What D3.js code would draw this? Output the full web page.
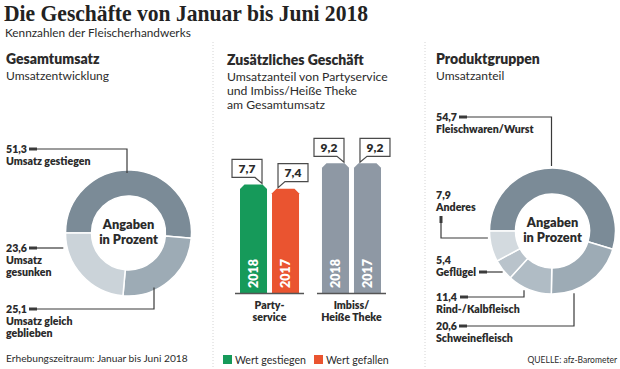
<!DOCTYPE html>
<html><head><meta charset="utf-8">
<script src="https://cdn.jsdelivr.net/npm/d3@7"></script>
<style>
html,body{margin:0;padding:0;background:#fff;}
svg{display:block;font-family:Lato,'Open Sans',sans-serif;}
</style></head><body>
<svg id="c" width="620" height="369"></svg>
<script>
// ---------- data ----------
const titleText = "Die Geschäfte von Januar bis Juni 2018";
const subtitleText = "Kennzahlen der Fleischerhandwerks";

const umsatzCategories = ["Umsatz gestiegen", "Umsatz gleich geblieben", "Umsatz gesunken"];
const umsatzLabelLines = [["Umsatz gestiegen"], ["Umsatz gleich", "geblieben"], ["Umsatz", "gesunken"]];
const umsatzValues = [51.3, 25.1, 23.6];

const barGroups = ["Partyservice", "Imbiss/Heiße Theke"];
const barGroupLines = [["Party-", "service"], ["Imbiss/", "Heiße Theke"]];
const barYears = ["2018", "2017"];
const partyValues = [7.7, 7.4];
const imbissValues = [9.2, 9.2];
const partyTrend = ["up", "down"];
const imbissTrend = ["same", "same"];

const produktCategories = ["Fleischwaren/Wurst", "Schweinefleisch", "Rind-/Kalbfleisch", "Geflügel", "Anderes"];
const produktValues = [54.7, 20.6, 11.4, 5.4, 7.9];

const legendLabels = ["Wert gestiegen", "Wert gefallen"];

// ---------- helpers ----------
const de = d3.formatLocale({decimal: ",", thousands: ".", grouping: [3], currency: ["", "€"]});
const fmt = de.format(".1f");
const svg = d3.select("#c");
const TXT = "#2b2b2b";
const LAB = 10.6;
const BOLD = 800;
function text(x, y, s, o = {}) {
  const t = svg.append("text").attr("x", x).attr("y", y).text(s)
    .attr("fill", o.fill || TXT)
    .attr("font-size", o.size || 11)
    .attr("font-weight", o.bold ? BOLD : 400)
    .attr("text-anchor", o.anchor || "start");
  if (o.family) t.attr("font-family", o.family);
  if (o.width) t.attr("textLength", o.width).attr("lengthAdjust", "spacingAndGlyphs");
  return t;
}

// ---------- separators ----------
[213, 425].forEach(x => svg.append("line").attr("x1", x).attr("x2", x).attr("y1", 42).attr("y2", 369)
  .attr("stroke", "#d4d4d4").attr("stroke-width", 1).attr("stroke-dasharray", "1,2"));

// ---------- titles ----------
text(4, 20.5, titleText, {size: 23, bold: true, family: "'Liberation Serif', serif", width: 364, fill: "#222"});
text(5, 36.5, subtitleText, {size: 11.8});

text(6, 64, "Gesamtumsatz", {size: 14, bold: true});
text(6, 79.5, "Umsatzentwicklung", {size: 12});

text(227, 65, "Zusätzliches Geschäft", {size: 14, bold: true});
["Umsatzanteil von Partyservice", "und Imbiss/Heiße Theke", "am Gesamtumsatz"]
  .forEach((s, i) => text(227, 80.5 + i * 14, s, {size: 12.2}));

text(436, 64, "Produktgruppen", {size: 14, bold: true});
text(436, 79.5, "Umsatzanteil", {size: 12});

// ---------- donut helper ----------
const pie = d3.pie().sort(null).startAngle(-Math.PI / 2).endAngle(1.5 * Math.PI);
const R = 63, r0 = 37;
const arc = d3.arc().innerRadius(r0).outerRadius(R);

function donut(cx, cy, values, colors) {
  const g = svg.append("g").attr("transform", `translate(${cx},${cy})`);
  g.selectAll("path").data(pie(values)).join("path")
    .attr("d", arc).attr("fill", (d, i) => colors[i])
    .attr("stroke", "#fff").attr("stroke-width", 1.5);
  g.append("text").attr("text-anchor", "middle").attr("y", -4).attr("font-size", 12.8)
    .attr("font-weight", BOLD).attr("fill", TXT).text("Angaben");
  g.append("text").attr("text-anchor", "middle").attr("y", 11).attr("font-size", 12.8)
    .attr("font-weight", BOLD).attr("fill", TXT).text("in Prozent");
  return g;
}
const LINE = "#3a3a3a";
function seg(pts, w = 1.2) {
  svg.append("path").attr("d", d3.line()(pts)).attr("fill", "none")
    .attr("stroke", LINE).attr("stroke-width", w);
}
function edgeY(cx, cy, x, dir) { return cy + dir * Math.sqrt(R * R - (x - cx) * (x - cx)); }
function edgeX(cx, cy, y, dir) { return cx + dir * Math.sqrt(R * R - (y - cy) * (y - cy)); }

// ---------- left donut ----------
const L = {cx: 128.5, cy: 233};
donut(L.cx, L.cy, umsatzValues, ["#7b8b97", "#9dabb5", "#cbd3d9"]);
const umsatzLayout = [
  {y: 153, ly: 149, ex: L.cx - 1.5, dir: -1},
  {y: 313, ly: 309, ex: L.cx + 25.5, dir: 1},
  {y: 252, ly: 248, ex: null}
];
umsatzValues.forEach((v, i) => {
  const lay = umsatzLayout[i];
  text(6, lay.y, fmt(v), {size: LAB, bold: true});
  umsatzLabelLines[i].forEach((s, j) => text(6, lay.y + 12 + j * 12, s, {size: LAB, bold: true}));
  seg([[29, lay.ly], [37, lay.ly]], 3);
  if (lay.ex === null) {
    seg([[37, lay.ly], [edgeX(L.cx, L.cy, lay.ly, -1) - 4, lay.ly]]);
  } else {
    seg([[37, lay.ly], [lay.ex, lay.ly], [lay.ex, edgeY(L.cx, L.cy, lay.ex, lay.dir) - lay.dir * 3]]);
  }
});
text(6, 362, "Erhebungszeitraum: Januar bis Juni 2018", {size: 10.2});

// ---------- right donut ----------
const P = {cx: 552.5, cy: 231};
donut(P.cx, P.cy, produktValues, ["#7b8b97", "#9dabb5", "#b0bcc5", "#b9c3cb", "#d3dadf"]);
text(436, 121, fmt(produktValues[0]), {size: LAB, bold: true});
text(436, 133, produktCategories[0], {size: LAB, bold: true});
seg([[459, 117], [467, 117]], 3);
seg([[467, 117], [P.cx - 1, 117], [P.cx - 1, edgeY(P.cx, P.cy, P.cx - 1, -1) - 2]]);

text(436, 199, fmt(produktValues[4]), {size: LAB, bold: true});
text(436, 211, produktCategories[4], {size: LAB, bold: true});
seg([[441, 216], [441, 223]], 3);
seg([[441, 223], [441, 238], [edgeX(P.cx, P.cy, 238, -1) - 2, 238]]);

text(436, 264, fmt(produktValues[3]), {size: LAB, bold: true});
text(436, 276, produktCategories[3], {size: LAB, bold: true});
seg([[479, 272], [487, 272]], 3);
seg([[487, 272], [edgeX(P.cx, P.cy, 272, -1) - 2, 272]]);

text(436, 301, fmt(produktValues[2]), {size: LAB, bold: true});
text(436, 313, produktCategories[2], {size: LAB, bold: true});
seg([[460, 297], [468, 297]], 3);
seg([[468, 297], [524, 297], [524, edgeY(P.cx, P.cy, 524, 1) + 3]]);

text(436, 330, fmt(produktValues[1]), {size: LAB, bold: true});
text(436, 342, produktCategories[1], {size: LAB, bold: true});
seg([[459, 326], [467, 326]], 3);
seg([[467, 326], [574, 326], [574, edgeY(P.cx, P.cy, 574, 1) + 3]]);

text(617, 363, "QUELLE: afz-Barometer", {size: 8.5, anchor: "end"});

// ---------- bars ----------
const base = 293;
const y = d3.scaleLinear().domain([0, 10]).range([base, base - 141]);
const x0 = d3.scaleBand().domain(barGroups).range([240, 381]).paddingInner(0.28).paddingOuter(0);
const x1 = d3.scaleBand().domain(barYears).range([0, x0.bandwidth()]).paddingInner(0.156);
const trendColor = {up: "#169a5a", down: "#ea5430", same: "#8e98a4"};
const groupValues = [partyValues, imbissValues];
const groupTrends = [partyTrend, imbissTrend];
const barData = [];
barGroups.forEach((g, gi) => barYears.forEach((yr, yi) =>
  barData.push({g, gi, yr, yi, v: groupValues[gi][yi], t: groupTrends[gi][yi]})));

const bg = svg.append("g");
const c = 4.5;
bg.selectAll("path.bar").data(barData).join("path").attr("class", "bar")
  .attr("fill", d => trendColor[d.t])
  .attr("d", d => {
    const xa = x0(d.g) + x1(d.yr), xb = xa + x1.bandwidth(), t = y(d.v);
    return `M${xa},${base}V${t + c}L${xa + c},${t}H${xb - c}L${xb},${t + c}V${base}Z`;
  });
bg.selectAll("text.yr").data(barData).join("text").attr("class", "yr")
  .attr("transform", d => `translate(${x0(d.g) + x1(d.yr) + x1.bandwidth() / 2},${base - 5}) rotate(-90)`)
  .attr("dy", "0.36em").attr("fill", "#fff").attr("font-size", 12.5).attr("font-weight", BOLD)
  .text(d => d.yr);
// callouts
const bw = 30, bh = 18, tail = 6;
barData.forEach(d => {
  const xa = x0(d.g) + x1(d.yr), xb = xa + x1.bandwidth(), t = y(d.v) - 1;
  const B = t - tail, T = B - bh;
  let p, L0;
  if (d.yi === 0) {
    const tx = xb - 5; L0 = tx - bw;
    p = `M${L0},${T}H${tx}V${t}L${tx - 7},${B}H${L0}Z`;
  } else {
    const tx = xa + 6; L0 = tx;
    p = `M${tx},${T}H${tx + bw}V${B}H${tx + 7}L${tx},${t}Z`;
  }
  bg.append("path").attr("d", p).attr("fill", "#fff").attr("stroke", "#4a4a4a").attr("stroke-width", 1.2)
    .attr("stroke-linejoin", "miter");
  bg.append("text").attr("x", L0 + bw / 2).attr("y", T + 13.5).attr("text-anchor", "middle")
    .attr("font-size", 12).attr("font-weight", BOLD).attr("fill", TXT).text(fmt(d.v));
});
// group baselines & labels
barGroups.forEach((g, gi) => {
  bg.append("line").attr("x1", x0(g) - 5).attr("x2", x0(g) + x0.bandwidth() + 5)
    .attr("y1", base + 0.5).attr("y2", base + 0.5).attr("stroke", "#555").attr("stroke-width", 1.5);
  barGroupLines[gi].forEach((s, j) =>
    text(x0(g) + x0.bandwidth() / 2, 309 + j * 12, s, {size: 10.6, bold: true, anchor: "middle"}));
});
// legend
const legendColors = [trendColor.up, trendColor.down];
const legendX = [223, 314];
legendLabels.forEach((s, i) => {
  svg.append("rect").attr("x", legendX[i]).attr("y", 355).attr("width", 9).attr("height", 9)
    .attr("fill", legendColors[i]);
  text(legendX[i] + 12, 363.5, s, {size: 10.6});
});
</script>
</body></html>
